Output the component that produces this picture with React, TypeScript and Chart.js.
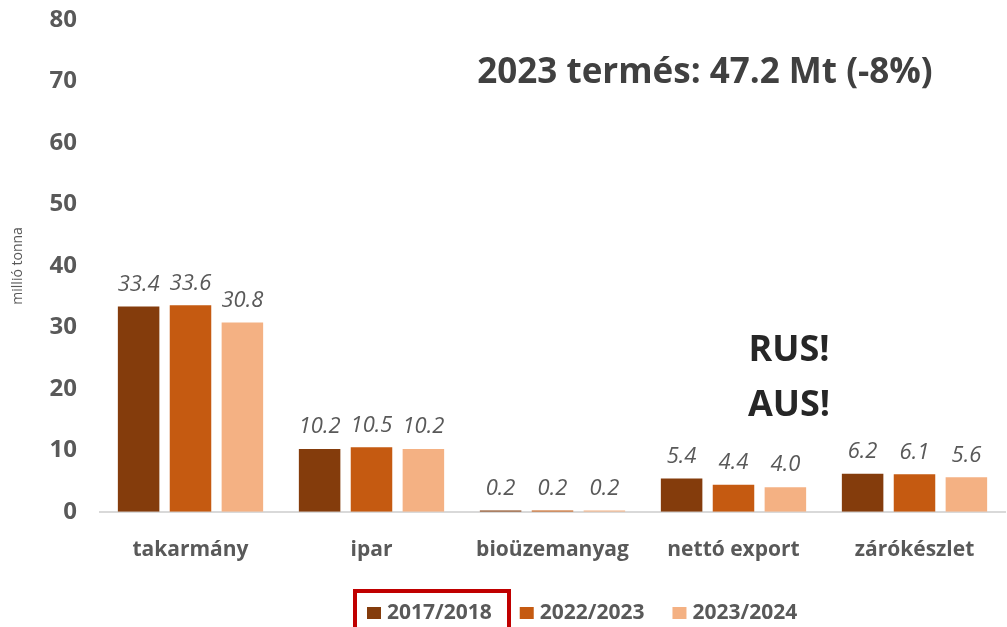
import React, { useEffect, useRef } from "react";
import { Chart, registerables } from "chart.js";

Chart.register(...registerables);

const categories = ["takarmány", "ipar", "bioüzemanyag", "nettó export", "zárókészlet"];
const seriesNames = ["2017/2018", "2022/2023", "2023/2024"];
const values2017 = [33.4, 10.2, 0.2, 5.4, 6.2];
const values2022 = [33.6, 10.5, 0.2, 4.4, 6.1];
const values2023 = [30.8, 10.2, 0.2, 4.0, 5.6];
const seriesColors = ["#843C0C", "#C55A11", "#F4B183"];
const yTicksMax = 80;
const yStep = 10;
const titleText = "2023 termés: 47.2 Mt (-8%)";
const noteLines = ["RUS!", "AUS!"];
const yTitle = "millió tonna";

const FONT = "'Open Sans', sans-serif";
const GRAY = "#595959";

const labelsPlugin = {
  id: "valueLabels",
  afterDatasetsDraw(chart: any) {
    const ctx = chart.ctx;
    ctx.save();
    ctx.font = `italic 22px ${FONT}`;
    ctx.fillStyle = GRAY;
    ctx.textAlign = "center";
    ctx.textBaseline = "middle";
    chart.data.datasets.forEach((ds: any, i: number) => {
      const meta = chart.getDatasetMeta(i);
      meta.data.forEach((el: any, j: number) => {
        const v = ds.data[j];
        ctx.fillText(v.toFixed(1), el.x, el.y - 22);
      });
    });
    ctx.restore();
  },
};

const extrasPlugin = {
  id: "extras",
  afterDraw(chart: any) {
    const ctx = chart.ctx;
    ctx.save();
    ctx.font = `bold 35px ${FONT}`;
    ctx.fillStyle = "#404040";
    ctx.textAlign = "center";
    ctx.textBaseline = "middle";
    ctx.fillText(titleText, 705, 73);
    ctx.fillStyle = "#262626";
    ctx.font = `bold 36px ${FONT}`;
    ctx.fillText(noteLines[0], 789, 351);
    ctx.fillText(noteLines[1], 789, 406);
    // legend
    ctx.font = `bold 21px ${FONT}`;
    ctx.textAlign = "left";
    let x = 367;
    const cy = 613;
    chart.data.datasets.forEach((ds: any) => {
      ctx.fillStyle = ds.backgroundColor;
      ctx.fillRect(x, cy - 6, 14, 12);
      ctx.fillStyle = GRAY;
      ctx.fillText(ds.label, x + 20, cy);
      x += 20 + ctx.measureText(ds.label).width + 28;
    });
    ctx.strokeStyle = "#C00000";
    ctx.lineWidth = 4;
    ctx.strokeRect(355, 591, 154, 60);
    ctx.restore();
  },
};

export default function App() {
  const ref = useRef<HTMLCanvasElement | null>(null);
  useEffect(() => {
    if (!ref.current) return;
    const chart = new Chart(ref.current, {
      type: "bar",
      data: {
        labels: categories,
        datasets: [values2017, values2022, values2023].map((d, i) => ({
          label: seriesNames[i],
          data: d,
          backgroundColor: seriesColors[i],
          categoryPercentage: 0.86,
          barPercentage: 0.8,
        })),
      },
      options: {
        animation: false,
        responsive: false,
        maintainAspectRatio: false,
        layout: { padding: { top: 0, bottom: 38, left: 0, right: 2 } },
        plugins: {
          legend: { display: false },
          tooltip: { enabled: false },
        },
        scales: {
          x: {
            grid: { display: false, drawTicks: false },
            border: { display: true, color: "#d9d9d9", width: 2 },
            ticks: {
              padding: 26,
              color: GRAY,
              font: { family: FONT, size: 21, weight: "bold" },
            },
          },
          y: {
            min: 0,
            max: yTicksMax,
            grid: { display: false, drawTicks: false },
            border: { display: false },
            ticks: {
              stepSize: yStep,
              padding: 23,
              color: GRAY,
              font: { family: FONT, size: 24, weight: "bold" },
            },
            title: {
              display: true,
              text: yTitle,
              color: GRAY,
              font: { family: FONT, size: 14 },
              padding: { top: 10, bottom: 0 },
            },
            afterFit(scale: any) {
              scale.width = 100;
              scale.paddingTop = 20;
              scale.paddingBottom = 0;
            },
          },
        },
      },
      plugins: [labelsPlugin, extrasPlugin],
    });
    return () => chart.destroy();
  }, []);
  return (
    <div style={{ position: "fixed", left: 0, top: 0, width: 1007, height: 627, background: "#fff" }}>
      <canvas ref={ref} width={1007} height={627} style={{ width: 1007, height: 627 }} />
    </div>
  );
}
